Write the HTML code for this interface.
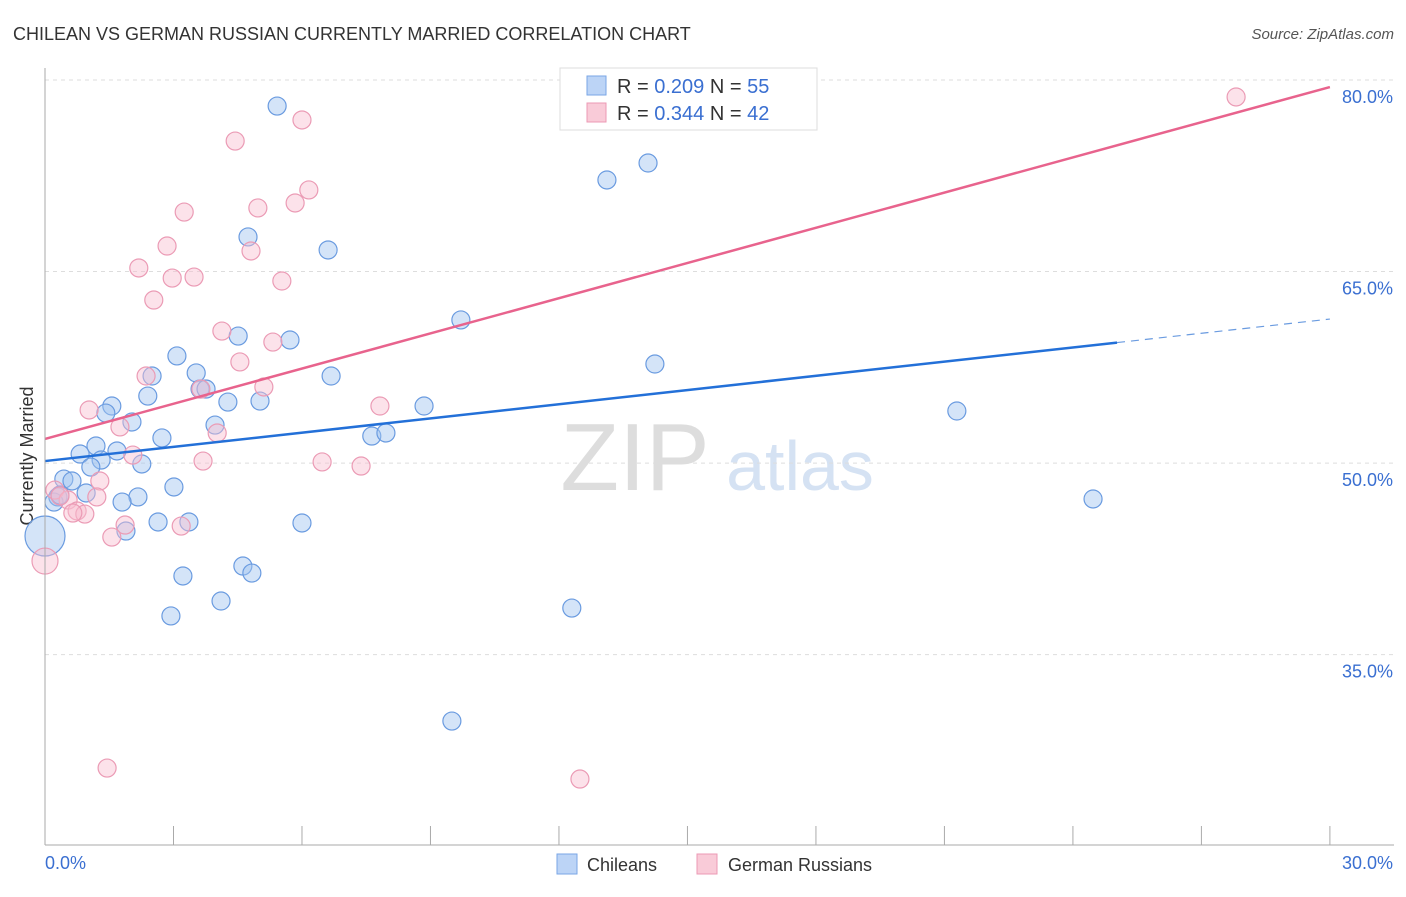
<!DOCTYPE html>
<html><head><meta charset="utf-8"><style>
body{margin:0;background:#fff;font-family:"Liberation Sans",sans-serif}
svg text{font-family:"Liberation Sans",sans-serif}
</style></head><body>
<svg id="chart" width="1406" height="892">
<text x="13" y="40" font-size="18" fill="#333">CHILEAN VS GERMAN RUSSIAN CURRENTLY MARRIED CORRELATION CHART</text>
<text x="1394" y="39" font-size="15" fill="#555" font-style="italic" text-anchor="end">Source: ZipAtlas.com</text>
<text x="635" y="490" font-size="96" fill="#ddd" font-family="Liberation Serif" text-anchor="middle">ZIP</text>
<text x="800" y="490" font-size="70" fill="#d5e2f3" text-anchor="middle">atlas</text>
<text transform="translate(33,456) rotate(-90)" font-size="18" fill="#333" text-anchor="middle">Currently Married</text>
<g id="grid"></g><g id="pts"></g><g id="lines"></g>
<line x1="45" y1="68" x2="45" y2="845" stroke="#aaa"/>
<line x1="45" y1="845" x2="1394" y2="845" stroke="#aaa"/>
<text x="45" y="869" font-size="18" fill="#3a6fd1">0.0%</text>
<text x="1393" y="869" font-size="18" fill="#3a6fd1" text-anchor="end">30.0%</text>
<g>
<rect x="560" y="68" width="257" height="62" fill="#fff" stroke="#ddd"/>
<rect x="587" y="76" width="19" height="19" fill="#bcd4f6" stroke="#7aa6e6"/>
<rect x="587" y="103" width="19" height="19" fill="#f9cbd8" stroke="#ec9ab4"/>
<text x="617" y="93" font-size="20" fill="#333">R = <tspan fill="#3a6fd1">0.209</tspan>   N = <tspan fill="#3a6fd1">55</tspan></text>
<text x="617" y="120" font-size="20" fill="#333">R = <tspan fill="#3a6fd1">0.344</tspan>   N = <tspan fill="#3a6fd1">42</tspan></text>
</g>
<g><rect x="557" y="854" width="20" height="20" fill="#bcd4f6" stroke="#7aa6e6"/><text x="587" y="871" font-size="18" fill="#333">Chileans</text></g>
<g><rect x="697" y="854" width="20" height="20" fill="#f9cbd8" stroke="#ec9ab4"/><text x="728" y="871" font-size="18" fill="#333">German Russians</text></g>
</svg>
<script>
const yTicks=[80,65,50,35];
const yTickLabels=["80.0%","65.0%","50.0%","35.0%"];
const xTicks=[0,3,6,9,12,15,18,21,24,27,30];
const blueX=[5.42,14.08,13.12,4.74,6.61,9.71,4.51,5.72,3.08,14.24,3.53,2.50,6.68,3.62,3.76,2.40,4.27,5.02,1.56,1.42,8.85,21.29,2.03,3.97,2.73,7.63,7.96,1.19,1.68,0.82,1.31,2.26,1.07,0.44,0.63,0.96,0.30,0.21,2.17,1.80,3.01,24.47,2.64,3.36,6.00,1.89,0,3.22,4.62,4.83,4.11,2.94,12.30,9.50,0.35];
const blueY=[77.96,73.50,72.17,67.71,66.69,61.21,59.95,59.64,58.39,57.76,57.06,56.82,56.82,55.80,55.80,55.25,54.78,54.86,54.47,53.92,54.47,54.08,53.22,52.98,51.97,52.12,52.36,51.34,50.95,50.71,50.24,49.93,49.69,48.75,48.60,47.66,47.35,46.95,47.35,46.95,48.13,47.19,45.39,45.39,45.31,44.68,44.29,41.16,41.94,41.39,39.20,38.03,38.65,29.80,47.50];
const blueR=[9,9,9,9,9,9,9,9,9,9,9,9,9,9,9,9,9,9,9,9,9,9,9,9,9,9,9,9,9,9,9,9,9,9,9,9,9,9,9,9,9,9,9,9,9,9,20,9,9,9,9,9,9,9,9];
const pinkX=[27.81,6.00,4.44,6.16,5.84,3.25,4.97,2.85,4.81,2.19,2.97,3.48,5.53,2.54,4.13,5.32,4.55,2.36,3.64,5.11,1.03,7.82,1.75,4.02,2.05,3.69,6.47,7.38,0.23,1.28,0.54,1.21,0.75,0.93,1.87,3.18,1.56,0,1.45,12.49,0.35,0.65];
const pinkY=[78.67,76.87,75.22,71.39,70.37,69.66,69.98,67.00,66.61,65.28,64.49,64.57,64.26,62.77,60.34,59.48,57.92,56.82,55.80,55.96,54.16,54.47,52.83,52.36,50.63,50.16,50.09,49.77,47.89,48.60,47.11,47.35,46.25,46.01,45.15,45.07,44.21,42.33,26.12,25.26,47.43,46.09];
const pinkR=[9,9,9,9,9,9,9,9,9,9,9,9,9,9,9,9,9,9,9,9,9,9,9,9,9,9,9,9,9,9,9,9,9,9,9,9,9,13,9,9,9,9];
const pinkTrend=[51.89,79.45];
const blueTrend=[50.16,61.28];
const blueSolidEnd=25.03;
const NS="http://www.w3.org/2000/svg";
const sx=v=>45+v*42.83;
const sy=v=>80+(80-v)*12.77;
function mk(tag,attrs,parent){const e=document.createElementNS(NS,tag);for(const k in attrs)e.setAttribute(k,attrs[k]);document.getElementById(parent).appendChild(e);return e;}
yTicks.forEach((t,i)=>{
 const l=mk('line',{x1:45,x2:1394,y1:sy(t),y2:sy(t),stroke:'#ddd','stroke-dasharray':'4,4'},'grid');
 
 
 const tx=mk('text',{x:1393,y:sy(t)+23,'font-size':18,fill:'#3a6fd1','text-anchor':'end'},'grid');
 tx.textContent=yTickLabels[i];
 
 
});
xTicks.forEach(t=>{
 const l=mk('line',{x1:sx(t),x2:sx(t),y1:826,y2:845,stroke:'#aaa'},'grid');
 
 
});
blueX.forEach((x,i)=>{
 const c=mk('circle',{cx:sx(x),cy:sy(blueY[i]),r:blueR[i],fill:'rgba(160,195,240,0.45)',stroke:'#6a9be0','stroke-width':1.2},'pts');
 
 
});
pinkX.forEach((x,i)=>{
 const c=mk('circle',{cx:sx(x),cy:sy(pinkY[i]),r:pinkR[i],fill:'rgba(248,190,208,0.45)',stroke:'#eb9bb5','stroke-width':1.2},'pts');
 
 
});
const pl=mk('line',{x1:sx(0),y1:sy(pinkTrend[0]),x2:sx(30),y2:sy(pinkTrend[1]),stroke:'#e8638d','stroke-width':2.5},'lines');


const bAt=x=>blueTrend[0]+(blueTrend[1]-blueTrend[0])*x/30;
const bl=mk('line',{x1:sx(0),y1:sy(bAt(0)),x2:sx(blueSolidEnd),y2:sy(bAt(blueSolidEnd)),stroke:'#2370d8','stroke-width':2.5},'lines');


const bd=mk('line',{x1:sx(blueSolidEnd),y1:sy(bAt(blueSolidEnd)),x2:sx(30),y2:sy(bAt(30)),stroke:'#6a9be0','stroke-width':1.2,'stroke-dasharray':'8,6'},'lines');


</script>
</body></html>
